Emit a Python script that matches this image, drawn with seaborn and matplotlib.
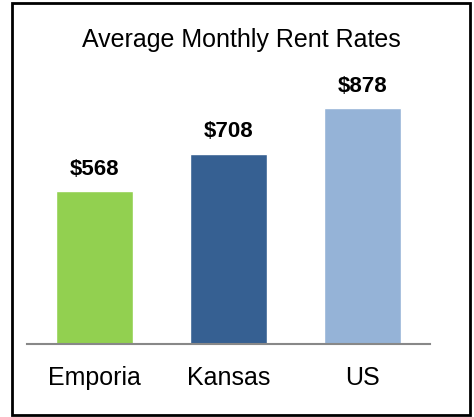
import matplotlib.pyplot as plt
import seaborn as sns
import pandas as pd
from matplotlib.patches import Rectangle

places = ['Emporia', 'Kansas', 'US']
rents = [568, 708, 878]
colors = ['#92D050', '#366092', '#95B3D7']

df = pd.DataFrame({'place': places, 'rent': rents})

sns.set_style('white')
plt.rcParams['font.family'] = ['Liberation Sans', 'DejaVu Sans']
plt.rcParams['text.color'] = 'black'
plt.rcParams['xtick.color'] = 'black'

fig = plt.figure(figsize=(4.74, 4.17), dpi=100)
ax = fig.add_axes([27 / 474, 1 - 344 / 417, 403 / 474, 269 / 417])

sns.barplot(data=df, x='place', y='rent', hue='place', palette=colors,
            width=0.575, legend=False, ax=ax, saturation=1)

for i, v in enumerate(rents):
    ax.text(i, v + 42, f'${v}', ha='center', va='bottom',
            fontsize=16, fontweight='bold', color='black')

ax.set_ylim(0, 1000)
ax.set_xlim(-0.5, 2.5)
ax.set_xlabel('')
ax.set_ylabel('')
ax.set_yticks([])
ax.tick_params(axis='x', length=0, labelsize=18, pad=16, labelcolor='black')
for s in ['top', 'right', 'left']:
    ax.spines[s].set_visible(False)
ax.spines['bottom'].set_color('#888888')
ax.spines['bottom'].set_linewidth(1.5)

fig.text(241 / 474, 1 - 40 / 417, 'Average Monthly Rent Rates',
         ha='center', va='center', fontsize=18, color='black')

fig.patches.append(Rectangle((12 / 474, 2 / 417), 458 / 474, 412 / 417,
                             transform=fig.transFigure, fill=False,
                             edgecolor='black', linewidth=2))

fig.savefig('out.png', dpi=100)
